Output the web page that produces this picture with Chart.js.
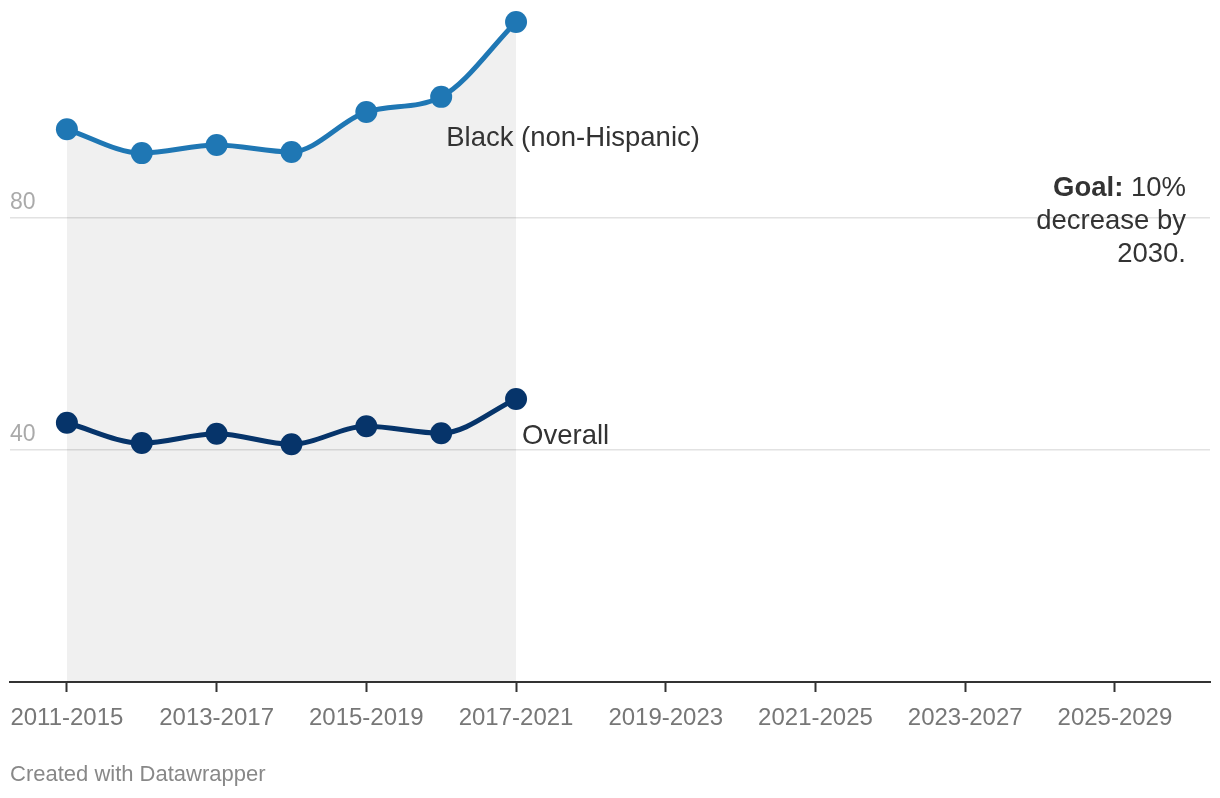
<!DOCTYPE html>
<html>
<head>
<meta charset="utf-8">
<script src="https://cdn.jsdelivr.net/npm/chart.js@4"></script>
<style>
  html, body { margin: 0; padding: 0; background: #fff; }
  #wrap { width: 1220px; height: 798px; position: relative; }
</style>
</head>
<body>
<div id="wrap"><canvas id="c" width="1220" height="798"></canvas></div>
<script>
const categories = ['2011-2015','2012-2016','2013-2017','2014-2018','2015-2019','2016-2020','2017-2021',
  '2018-2022','2019-2023','2020-2024','2021-2025','2022-2026','2023-2027','2024-2028','2025-2029'];
const blackValues = [95.3, 91.2, 92.6, 91.4, 98.3, 100.9, 113.8];
const overallValues = [44.7, 41.2, 42.8, 41.0, 44.1, 42.9, 48.8];
const yTickValues = [40, 80];
const seriesNames = ['Black (non-Hispanic)', 'Overall'];
const goalText = ['Goal:', ' 10%', 'decrease by', '2030.'];
const footerText = 'Created with Datawrapper';

const FONT = '"Liberation Sans", Arial, Helvetica, sans-serif';

const toPts = arr => arr.map((v, i) => ({x: i, y: v}));

const annotations = {
  id: 'annotations',
  afterDatasetsDraw(chart) {
    const ctx = chart.ctx;
    const xs = chart.scales.x, ys = chart.scales.y;
    ctx.save();
    ctx.font = '23px ' + FONT;
    ctx.fillStyle = '#aaaaaa';
    ctx.textAlign = 'left';
    ctx.textBaseline = 'alphabetic';
    yTickValues.forEach(v => {
      ctx.fillText(String(v), chart.chartArea.left, ys.getPixelForValue(v) - 9);
    });
    ctx.font = '27.5px ' + FONT;
    ctx.fillStyle = '#333333';
    const bi = 5;
    ctx.fillText(seriesNames[0], xs.getPixelForValue(bi) + 5, ys.getPixelForValue(blackValues[bi]) + 49);
    const oi = overallValues.length - 1;
    ctx.fillText(seriesNames[1], xs.getPixelForValue(oi) + 6, ys.getPixelForValue(overallValues[oi]) + 45);
    const rx = chart.chartArea.right - 24;
    ctx.textAlign = 'left';
    ctx.font = '27.5px ' + FONT;
    const w2 = ctx.measureText(goalText[1]).width;
    ctx.font = 'bold 27.5px ' + FONT;
    const w1 = ctx.measureText(goalText[0]).width;
    ctx.fillText(goalText[0], rx - w1 - w2, 196);
    ctx.font = '27.5px ' + FONT;
    ctx.fillText(goalText[1], rx - w2, 196);
    ctx.textAlign = 'right';
    ctx.fillText(goalText[2], rx, 229);
    ctx.fillText(goalText[3], rx, 262);
    ctx.textAlign = 'left';
    ctx.font = '22px ' + FONT;
    ctx.fillStyle = '#888888';
    ctx.fillText(footerText, 10, 781);
    ctx.restore();
  }
};

new Chart(document.getElementById('c'), {
  type: 'line',
  data: {
    datasets: [
      {
        label: seriesNames[1],
        data: toPts(overallValues),
        borderColor: '#06346a',
        backgroundColor: '#06346a',
        pointBackgroundColor: '#06346a',
        pointBorderWidth: 0,
        pointRadius: 11,
        borderWidth: 5,
        cubicInterpolationMode: 'monotone',
        fill: false,
        clip: false
      },
      {
        label: seriesNames[0],
        data: toPts(blackValues),
        borderColor: '#1f77b4',
        backgroundColor: 'rgba(0,0,0,0.06)',
        pointBackgroundColor: '#1f77b4',
        pointBorderWidth: 0,
        pointRadius: 11,
        borderWidth: 5,
        cubicInterpolationMode: 'monotone',
        fill: 'origin',
        clip: false
      }
    ]
  },
  options: {
    responsive: false,
    animation: false,
    devicePixelRatio: 1,
    layout: { autoPadding: false, padding: { left: 10, right: 10, top: 0, bottom: 55 } },
    plugins: {
      legend: { display: false },
      tooltip: { enabled: false },
      filler: { drawTime: 'beforeDatasetsDraw' }
    },
    scales: {
      x: {
        type: 'linear',
        min: -0.76,
        max: 15.27,
        afterBuildTicks(scale) {
          scale.ticks = categories.map((c, i) => i).filter(i => i % 2 === 0).map(v => ({value: v}));
        },
        afterFit(scale) {
          scale.height = 61;
          scale.paddingLeft = 0;
          scale.paddingRight = 0;
        },
        ticks: {
          autoSkip: false,
          maxRotation: 0,
          padding: 12,
          color: '#777777',
          font: { family: FONT, size: 24 },
          callback: v => categories[v] || ''
        },
        grid: { drawOnChartArea: false, tickLength: 10, color: '#333333', tickWidth: 2 },
        border: { color: '#333333', width: 2 }
      },
      y: {
        min: 0,
        max: 117.6,
        afterBuildTicks(scale) {
          scale.ticks = [0].concat(yTickValues).map(v => ({value: v}));
        },
        afterFit(scale) {
          scale.width = 0;
          scale.paddingTop = 0;
          scale.paddingBottom = 0;
        },
        ticks: { display: false },
        grid: {
          drawTicks: false,
          color: ctx => (ctx.tick && ctx.tick.value === 0) ? 'rgba(0,0,0,0)' : '#e2e2e2',
          lineWidth: 1.5
        },
        border: { display: false }
      }
    }
  },
  plugins: [annotations]
});
</script>
</body>
</html>
